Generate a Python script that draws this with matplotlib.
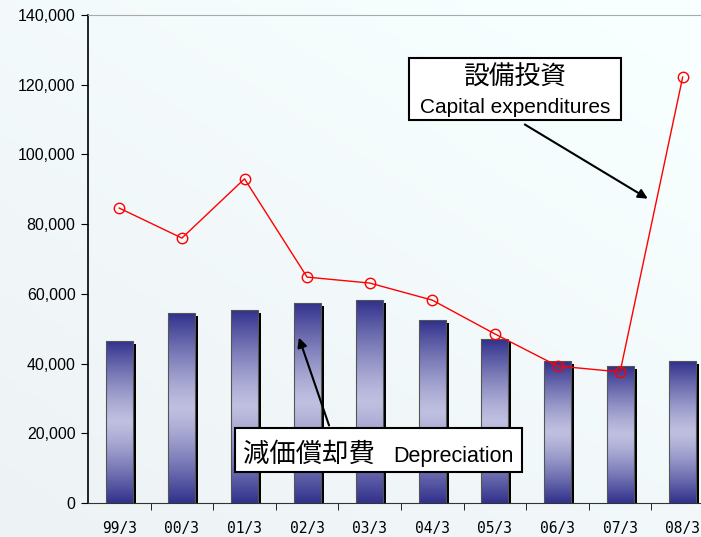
import numpy as np
import matplotlib.pyplot as plt
import matplotlib.transforms as mtransforms

plt.rcParams['font.family'] = ['Liberation Sans', 'Noto Sans CJK JP', 'DejaVu Sans']

periods = ['99/3', '00/3', '01/3', '02/3', '03/3', '04/3', '05/3', '06/3', '07/3', '08/3']
depreciation = [46500, 54500, 55400, 57400, 58200, 52500, 47000, 40700, 39300, 40700]
capex = [84600, 76000, 93000, 64800, 63100, 58200, 48500, 39300, 37600, 122200]

fig = plt.figure(figsize=(7.01, 5.37), dpi=100)

# page background: pale grey-cyan -> near white
bg = fig.add_axes([0, 0, 1, 1], zorder=-10)
gx = np.linspace(0, 1, 200)
gy = np.linspace(0, 1, 200)
GX, GY = np.meshgrid(gx, gy)
t = np.clip(0.5 * GX + 0.6 * (1 - GY), 0, 1)
c0 = np.array([0.93, 0.95, 0.96])
c1 = np.array([0.97, 1.0, 1.0])
img = c0[None, None, :] * (1 - t[..., None]) + c1[None, None, :] * t[..., None]
bg.imshow(img, extent=[0, 1, 0, 1], aspect='auto', origin='upper')
bg.axis('off')

# axes: right edge runs off the page like the original
ax = fig.add_axes([88 / 701, 34 / 537, 626 / 701, 488 / 537])
ax.patch.set_alpha(0)
x = np.arange(len(periods))
w = 0.43

shadow = mtransforms.offset_copy(ax.transData, fig=fig, x=3, y=-3, units='dots')
ax.bar(x, depreciation, w, color='black', transform=shadow, zorder=2)
bars = ax.bar(x, depreciation, w, color='none', edgecolor='#555555', lw=0.8, zorder=4)

grad = np.abs(np.linspace(-1, 1, 256)) ** 1.3
dark = np.array([0.19, 0.19, 0.55])
light = np.array([0.75, 0.75, 0.88])
gimg = light[None, :] * (1 - grad[:, None]) + dark[None, :] * grad[:, None]
gimg = np.repeat(gimg[:, None, :], 2, axis=1)
for b in bars:
    im = ax.imshow(gimg, extent=[b.get_x(), b.get_x() + b.get_width(), 0, b.get_height()],
                   aspect='auto', zorder=3, origin='upper')
    im.set_clip_path(b)

ax.plot(x, capex, color='red', lw=1, marker='o', ms=7.5, mfc='none', mec='red', mew=1, zorder=5)

ax.set_xlim(-0.5, 9.5)
ax.set_ylim(0, 140000)
ax.set_yticks(np.arange(0, 140001, 20000))
ax.set_yticklabels([f'{v:,}' for v in range(0, 140001, 20000)], fontsize=11.5)
ax.set_xticks(x)
ax.set_xticklabels(periods, fontsize=10.5, family='DejaVu Sans Mono')
ax.set_xticks(np.arange(0.5, 9, 1), minor=True)
ax.tick_params(axis='x', which='major', length=0, pad=13)
ax.tick_params(axis='x', which='minor', length=5, direction='out')
ax.tick_params(axis='y', length=5, direction='out', pad=4)
ax.spines['right'].set_visible(False)
ax.spines['top'].set_color('#aaaaaa')
ax.spines['left'].set_linewidth(1.2)
ax.spines['bottom'].set_color('#333333')

# annotations
ax.annotate('', xy=(8.48, 86900), xytext=(6.44, 109000),
            arrowprops=dict(arrowstyle='-|>', color='black', lw=1.5, mutation_scale=14), zorder=6)
ax.annotate('', xy=(2.855, 48200), xytext=(3.365, 21500),
            arrowprops=dict(arrowstyle='-|>', color='black', lw=1.5, mutation_scale=14), zorder=6)

ax.add_patch(plt.Rectangle((4.625, 109900), 3.395, 17800, fc='white', ec='black', lw=1.5, zorder=6))
ax.text(6.32, 121900, '設備投資', fontsize=18.5, ha='center', va='center', zorder=7,
        family=['Noto Sans CJK JP'])
ax.text(6.32, 113600, 'Capital expenditures', fontsize=15, ha='center', va='center', zorder=7)

ax.add_patch(plt.Rectangle((1.85, 8900), 4.58, 12600, fc='white', ec='black', lw=1.5, zorder=6))
ax.text(1.98, 11900, '減価償却費', fontsize=19, ha='left', va='baseline', zorder=7,
        family=['Noto Sans CJK JP'])
ax.text(6.30, 11900, 'Depreciation', fontsize=15.5, ha='right', va='baseline', zorder=7)

fig.savefig('out.png', dpi=100)
